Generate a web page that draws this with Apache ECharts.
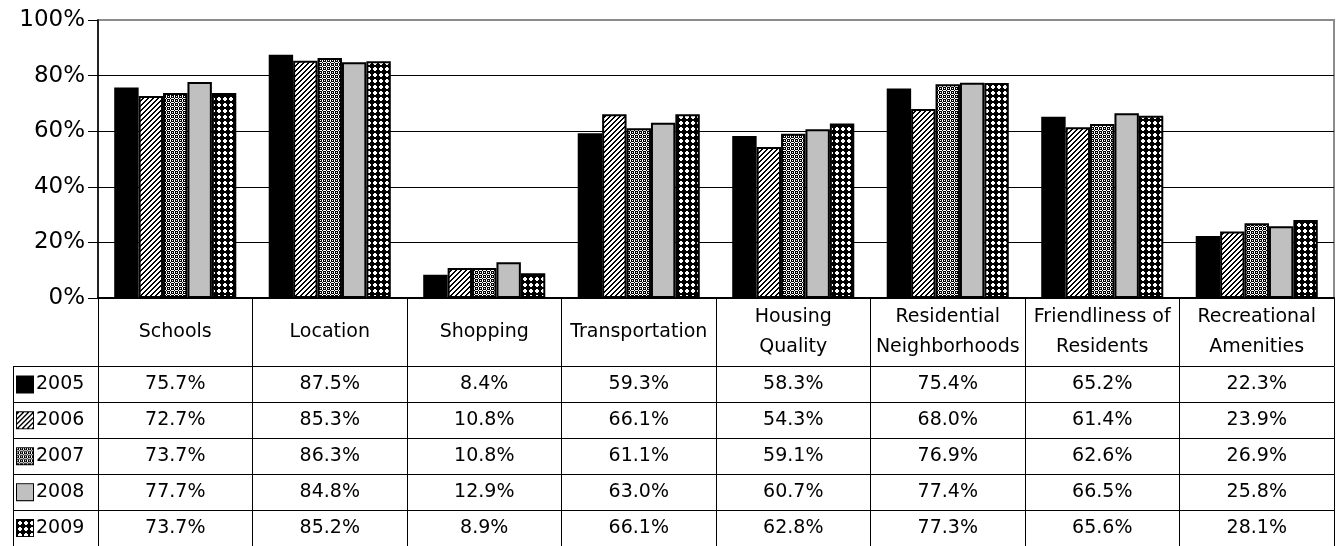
<!DOCTYPE html>
<html>
<head>
<meta charset="utf-8">
<script src="https://cdn.jsdelivr.net/npm/echarts@6/dist/echarts.min.js"></script>
<style>
  html, body { margin: 0; padding: 0; background: #fff; }
  #chart { width: 1341px; height: 546px; }
</style>
</head>
<body>
<div id="chart"></div>
<script>
// Survey categories (header row of the data table)
const categories = ['Schools', 'Location', 'Shopping', 'Transportation', 'Housing\nQuality',
  'Residential\nNeighborhoods', 'Friendliness of\nResidents', 'Recreational\nAmenities'];
const years = ['2005', '2006', '2007', '2008', '2009'];

// Percent of respondents per category, by year
const v2005 = [75.7, 87.5, 8.4, 59.3, 58.3, 75.4, 65.2, 22.3];
const v2006 = [72.7, 85.3, 10.8, 66.1, 54.3, 68.0, 61.4, 23.9];
const v2007 = [73.7, 86.3, 10.8, 61.1, 59.1, 76.9, 62.6, 26.9];
const v2008 = [77.7, 84.8, 12.9, 63.0, 60.7, 77.4, 66.5, 25.8];
const v2009 = [73.7, 85.2, 8.9, 66.1, 62.8, 77.3, 65.6, 28.1];
const yearValues = [v2005, v2006, v2007, v2008, v2009];

// Value axis ticks
const yTicks = [0, 20, 40, 60, 80, 100];

const FONT = 'DejaVu Sans';

// ---- fill patterns (monochrome, print style) ----
function tile(size, isBlack) {
  const c = document.createElement('canvas');
  c.width = size; c.height = size;
  const ctx = c.getContext('2d');
  const img = ctx.createImageData(size, size);
  for (let y = 0; y < size; y++) {
    for (let x = 0; x < size; x++) {
      const k = (y * size + x) * 4;
      const v = isBlack(x, y) ? 0 : 255;
      img.data[k] = v; img.data[k + 1] = v; img.data[k + 2] = v; img.data[k + 3] = 255;
    }
  }
  ctx.putImageData(img, 0, 0);
  return c;
}
// diagonal "/" stripes
const stripes = tile(5, (x, y) => (x + y) % 5 < 2);
// fine dotted mesh
const fineDots = tile(4, (x, y) => {
  const white = (x === 2 && (y === 1 || y === 3)) || (y === 2 && (x === 1 || x === 3)) ||
                (x === 0 && (y === 0 || y === 2)) || (y === 0 && x === 2);
  return !white;
});
// black lattice with white rounded dots
const bigDots = tile(6, (x, y) => {
  const inX = x >= 1 && x <= 4, inY = y >= 1 && y <= 4;
  const corner = (x === 1 || x === 4) && (y === 1 || y === 4);
  return !(inX && inY && !corner);
});

const fills = [
  '#000000',
  { image: stripes, repeat: 'repeat' },
  { image: fineDots, repeat: 'repeat' },
  '#c0c0c0',
  { image: bigDots, repeat: 'repeat' }
];

// small legend keys for the table's first column
function keyIcon(fill) {
  const c = document.createElement('canvas');
  c.width = 16; c.height = 16;
  const ctx = c.getContext('2d');
  if (typeof fill === 'string') {
    ctx.fillStyle = fill;
  } else {
    ctx.fillStyle = ctx.createPattern(fill.image, 'repeat');
  }
  ctx.fillRect(0, 0, 16, 16);
  return c.toDataURL();
}
const richKeys = {};
years.forEach((y, i) => {
  richKeys['k' + i] = {
    width: 16, height: 16,
    backgroundColor: { image: keyIcon(fills[i]) },
    borderColor: '#000', borderWidth: 2
  };
});
richKeys.t = { fontFamily: FONT, fontSize: 19, color: '#000', padding: [0, 0, 0, 3] };

const chart = echarts.init(document.getElementById('chart'), null, { renderer: 'canvas' });

const barSeries = years.map((y, i) => ({
  name: y,
  type: 'bar',
  xAxisIndex: 0,
  yAxisIndex: 0,
  data: yearValues[i],
  barGap: '0%',
  barCategoryGap: '21%',
  itemStyle: { color: fills[i], borderColor: '#000', borderWidth: 2 },
  silent: true
}));

// table cells: one entry per (category, year)
const cellData = [];
yearValues.forEach((vals, j) => {
  vals.forEach((v, i) => cellData.push([i, j, v]));
});

const option = {
  animation: false,
  backgroundColor: '#fff',
  grid: [
    { left: 98, right: 7, top: 20, height: 278, show: true, borderColor: '#8c8c8c', borderWidth: 2 },
    { left: 98, right: 7, top: 366.5, height: 182.5 }
  ],
  xAxis: [
    {
      type: 'category', gridIndex: 0, data: categories,
      axisLine: { show: true, lineStyle: { color: '#000', width: 2 } },
      axisTick: { show: true, length: 68, lineStyle: { color: '#000', width: 1 } },
      axisLabel: {
        interval: 0, margin: 34, verticalAlign: 'middle', lineHeight: 30,
        fontFamily: FONT, fontSize: 19, color: '#000'
      },
      splitLine: { show: false }
    },
    {
      type: 'category', gridIndex: 1, data: categories, position: 'top',
      axisLine: { show: true, lineStyle: { color: '#000', width: 1 } },
      axisTick: { show: false },
      axisLabel: { show: false },
      splitLine: { show: true, lineStyle: { color: '#000', width: 1 } }
    }
  ],
  yAxis: [
    {
      type: 'value', gridIndex: 0, min: yTicks[0], max: yTicks[yTicks.length - 1], interval: 20,
      axisLine: { show: true, lineStyle: { color: '#000', width: 1.5 } },
      axisTick: { show: true, length: 10, lineStyle: { color: '#000', width: 1 } },
      axisLabel: { formatter: '{value}%', margin: 13, fontFamily: FONT, fontSize: 23, color: '#000' },
      splitLine: { show: true, showMaxLine: false, lineStyle: { color: '#000', width: 1 } }
    },
    {
      type: 'category', gridIndex: 1, data: years, inverse: true,
      axisLine: { show: true, lineStyle: { color: '#000', width: 1 } },
      axisTick: { show: true, length: 85, lineStyle: { color: '#000', width: 1 } },
      axisLabel: {
        align: 'left', margin: 81,
        formatter: (val, idx) => '{k' + idx + '|}{t|' + val + '}',
        rich: richKeys
      },
      splitLine: { show: true, lineStyle: { color: '#000', width: 1 } }
    },
    {
      type: 'category', gridIndex: 1, data: years, inverse: true, position: 'left', offset: 85,
      axisLine: { show: true, lineStyle: { color: '#000', width: 1 } },
      axisTick: { show: false },
      axisLabel: { show: false },
      splitLine: { show: false }
    }
  ],
  series: barSeries.concat([{
    type: 'scatter',
    xAxisIndex: 1,
    yAxisIndex: 1,
    data: cellData,
    symbolSize: 0,
    silent: true,
    itemStyle: { opacity: 1, color: '#000' },
    label: {
      show: true, position: 'inside',
      fontFamily: FONT, fontSize: 19, color: '#000',
      textBorderWidth: 0, opacity: 1,
      formatter: p => p.value[2].toFixed(1) + '%'
    }
  }])
};

chart.setOption(option);
</script>
</body>
</html>
